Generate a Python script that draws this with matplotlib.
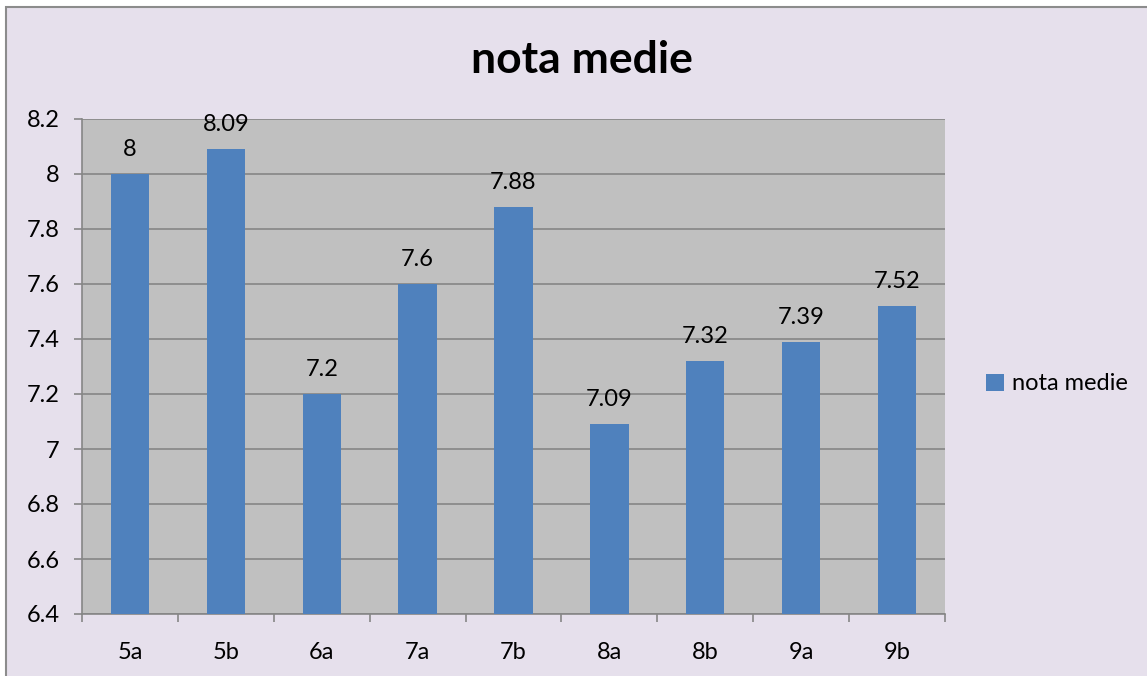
import matplotlib.pyplot as plt
from matplotlib.patches import Rectangle

# data
classes = ['5a', '5b', '6a', '7a', '7b', '8a', '8b', '9a', '9b']
averages = [8, 8.09, 7.2, 7.6, 7.88, 7.09, 7.32, 7.39, 7.52]
value_labels = ['8', '8.09', '7.2', '7.6', '7.88', '7.09', '7.32', '7.39', '7.52']
y_ticks = [6.4, 6.6, 6.8, 7, 7.2, 7.4, 7.6, 7.8, 8, 8.2]
y_tick_labels = ['6.4', '6.6', '6.8', '7', '7.2', '7.4', '7.6', '7.8', '8', '8.2']

plt.rcParams['font.family'] = ['Lato', 'DejaVu Sans']
fs = 17

fig = plt.figure(figsize=(11.47, 6.76), dpi=100, facecolor='white')
# chart area with grey border (runs off the right and bottom edges)
fig.patches.append(Rectangle((6 / 1147, -0.05), 1.1, 1.05 - 7 / 676,
                             transform=fig.transFigure, facecolor='#E6E0EC',
                             edgecolor='#8C8C8C', linewidth=1.5, zorder=-5))

ax = fig.add_axes([82 / 1147, 62 / 676, (945 - 82) / 1147, (614 - 119) / 676])
ax.set_facecolor('#C0C0C0')

x = list(range(len(classes)))
bars = ax.bar(x, averages, width=0.4, color='#4F81BD', label='nota medie', zorder=3)
for xi, v, lab in zip(x, averages, value_labels):
    ax.annotate(lab, (xi, v), xytext=(0, 10), textcoords='offset points',
                ha='center', va='bottom', fontsize=fs, color='black',
                annotation_clip=False)

ax.set_xlim(-0.5, len(classes) - 0.5)
ax.set_ylim(6.4, 8.2)
ax.set_yticks(y_ticks)
ax.set_yticklabels(y_tick_labels, fontsize=fs)
ax.set_xticks(x)
ax.set_xticklabels(classes, fontsize=fs)
ax.tick_params(axis='x', length=0, pad=20)
ax.set_xticks([i - 0.5 for i in range(len(classes) + 1)], minor=True)
ax.tick_params(axis='x', which='minor', length=6, color='#868686', width=1.2, direction='out')
ax.tick_params(axis='y', length=6, color='#868686', width=1.2, pad=10)
ax.grid(axis='y', color='#868686', linewidth=1.2, zorder=1)
for side in ['top', 'right']:
    ax.spines[side].set_visible(False)
for side in ['left', 'bottom']:
    ax.spines[side].set_color('#868686')
    ax.spines[side].set_linewidth(1.2)

fig.text(582 / 1147, 1 - 60 / 676, 'nota medie', ha='center', va='center',
         fontsize=32, fontweight='bold')

fig.legend(handles=[bars], labels=['nota medie'], loc='center left',
           bbox_to_anchor=(986 / 1147, 1 - 384 / 676), frameon=False,
           fontsize=fs, handlelength=0.75, handleheight=0.75, handletextpad=0.35,
           borderpad=0, borderaxespad=0)

fig.savefig('out.png', dpi=100)
